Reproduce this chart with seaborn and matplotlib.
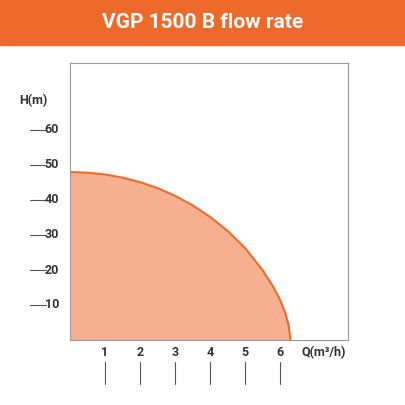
import matplotlib
matplotlib.use("Agg")
import matplotlib.pyplot as plt
import seaborn as sns
import numpy as np

sns.set_style("white")
plt.rcParams['font.family'] = ['Roboto', 'DejaVu Sans']

q = [0, 0.5, 1, 1.5, 2, 2.5, 3, 3.5, 4, 4.5, 5, 5.5, 5.8, 6.0, 6.15, 6.25, 6.3]
h = [48, 47.8, 47.3, 46.4, 45.1, 43.4, 41.2, 38.5, 35.2, 31.2, 26.3, 20.0, 15.3, 11.5, 7.8, 4.0, 0]
xticks = [1, 2, 3, 4, 5, 6]
yticks = [10, 20, 30, 40, 50, 60]
title = "VGP 1500 B flow rate"

orange = "#EE6A2B"
fig = plt.figure(figsize=(4.05, 4.05), dpi=100)
fig.patches.append(plt.Rectangle((0, 1 - 45/405), 1, 45/405, transform=fig.transFigure, color=orange))
fig.text(0.5, 1 - 22/405, title, color="white", fontsize=15, fontweight="bold", ha="center", va="center")

ax = fig.add_axes([70/405, 1 - 340/405, 278/405, 277/405])
ax.fill_between(q, h, color="#F7B08F", lw=0)
sns.lineplot(x=q, y=h, ax=ax, color=orange, lw=1.5, sort=False)
ax.set_xlim(0, 278/35)
ax.set_ylim(0, 277/3.5)
ax.set_xticks([]); ax.set_yticks([])
for s in ax.spines.values():
    s.set_color("#999999"); s.set_linewidth(0.8)

ty = ax.get_yaxis_transform()
for v in yticks:
    ax.text(-0.04, v, str(v), transform=ty, ha="right", va="center", fontsize=9, fontweight="bold", color="#333333")
    ax.plot([-0.145, -0.085], [v, v], transform=ty, clip_on=False, color="#555555", lw=0.8)
tx = ax.get_xaxis_transform()
for v in xticks:
    ax.text(v, -0.045, str(v), transform=tx, ha="center", va="center", fontsize=9, fontweight="bold", color="#333333")
    ax.plot([v, v], [-0.08, -0.16], transform=tx, clip_on=False, color="#555555", lw=0.8)
ax.text(6.6, -0.045, "Q(m³/h)", transform=tx, ha="left", va="center", fontsize=9, fontweight="bold", color="#333333")
ax.text(-0.13, 0.865, "H(m)", transform=ax.transAxes, ha="center", va="center", fontsize=9, fontweight="bold", color="#333333")

fig.savefig("out.png", dpi=100)
